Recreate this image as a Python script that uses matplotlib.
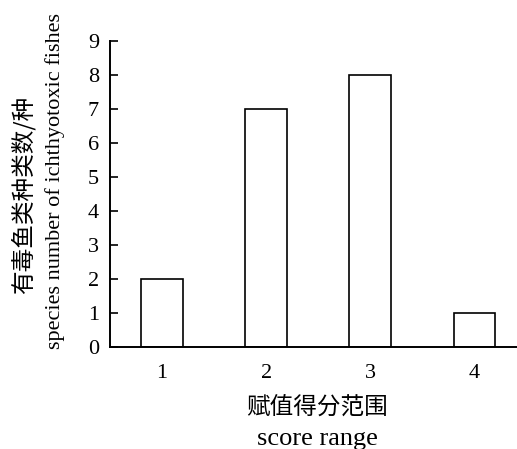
import matplotlib.pyplot as plt

# data
scores = [1, 2, 3, 4]
counts = [2, 7, 8, 1]
yticks = list(range(0, 10))

plt.rcParams['font.family'] = ['Liberation Serif', 'Noto Sans CJK SC']

fig = plt.figure(figsize=(5.17, 4.49), dpi=100)
ax = fig.add_axes([110 / 517, 1 - 347 / 449, 1 - 110 / 517, (347 - 40.5) / 449])

ax.bar(scores, counts, width=0.4, facecolor='white', edgecolor='black', linewidth=1.2)

ax.set_xlim(0.5, 4.41)
ax.set_ylim(0, 9)
ax.set_yticks(yticks)
ax.set_xticks(scores)
ax.tick_params(axis='y', direction='in', length=6, width=1.2, labelsize=16, pad=8)
ax.tick_params(axis='x', length=0, labelsize=16, pad=12)
for s in ['top', 'right']:
	ax.spines[s].set_visible(False)
for s in ['left', 'bottom']:
	ax.spines[s].set_linewidth(1.4)

# 轴标题
fig.text(317 / 517, 1 - 408 / 449, '赋值得分范围', ha='center', va='center',
	fontsize=17, family=['Noto Sans CJK SC'])
fig.text(317 / 517, 1 - 439 / 449, 'score range', ha='center', va='center', fontsize=19)
fig.text(23 / 517, 1 - 195 / 449, '有毒鱼类种类数/种', ha='center', va='center', rotation=90,
	fontsize=17, family=['Noto Sans CJK SC'])
fig.text(55 / 517, 1 - 181 / 449, 'species number of ichthyotoxic fishes', ha='center', va='center',
	rotation=90, fontsize=16)

fig.savefig('out.png', dpi=100)
